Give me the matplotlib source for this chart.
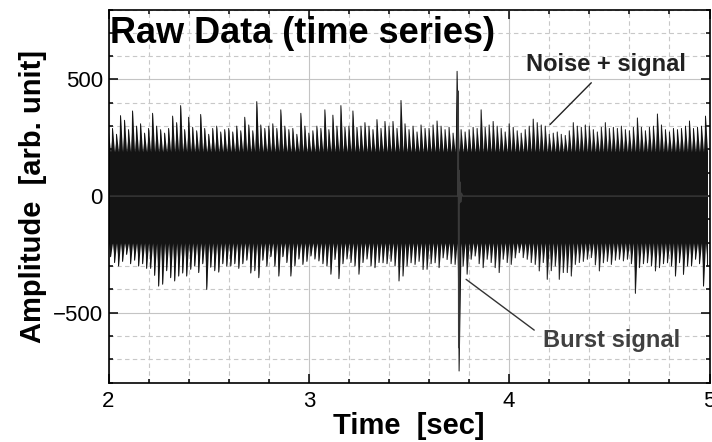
import numpy as np
import matplotlib
matplotlib.use('Agg')
import matplotlib.pyplot as plt
from matplotlib.ticker import MultipleLocator

plt.rcParams['font.family'] = ['Liberation Sans', 'DejaVu Sans']

# envelope of the raw trace, one peak pair per 0.02 s
t_start = 2.0
t_step = 0.02
upper = [
    275, 290, 265, 345, 325, 285, 365, 300, 310, 270,
    290, 355, 300, 285, 270, 290, 343, 315, 388, 285,
    338, 295, 280, 350, 290, 265, 290, 300, 275, 285,
    290, 275, 300, 280, 338, 305, 280, 405, 305, 290,
    300, 310, 290, 370, 300, 285, 290, 265, 355, 300,
    270, 280, 300, 290, 370, 285, 347, 300, 388, 295,
    300, 365, 295, 300, 315, 300, 285, 328, 290, 320,
    300, 320, 290, 410, 310, 285, 300, 275, 305, 290,
    290, 305, 322, 300, 285, 295, 270, 535, 285, 275,
    285, 295, 290, 370, 295, 305, 320, 300, 290, 275,
    310, 295, 280, 270, 285, 300, 330, 315, 305, 300,
    265, 270, 275, 265, 260, 280, 315, 300, 295, 305,
    300, 285, 275, 295, 315, 290, 295, 290, 300, 285,
    280, 295, 335, 295, 280, 295, 300, 352, 305, 285,
    275, 290, 285, 290, 300, 322, 290, 295, 300, 343,
]
lower = [
    -260, -285, -300, -280, -250, -290, -275, -300, -290, -310,
    -310, -340, -386, -378, -320, -350, -364, -343, -330, -343,
    -314, -300, -328, -290, -400, -305, -320, -326, -290, -300,
    -300, -290, -310, -290, -275, -330, -320, -350, -275, -300,
    -260, -300, -343, -260, -285, -343, -300, -270, -293, -280,
    -257, -270, -278, -290, -300, -335, -272, -354, -290, -270,
    -285, -300, -335, -285, -270, -300, -307, -285, -286, -290,
    -280, -300, -364, -343, -300, -286, -293, -280, -315, -314,
    -290, -286, -307, -265, -272, -290, -293, -750, -300, -335,
    -271, -257, -290, -307, -271, -285, -307, -328, -271, -285,
    -293, -265, -243, -264, -271, -285, -293, -321, -285, -357,
    -320, -300, -357, -328, -328, -343, -293, -285, -280, -271,
    -264, -295, -321, -286, -280, -293, -275, -271, -278, -271,
    -290, -417, -307, -290, -286, -300, -321, -307, -290, -286,
    -300, -343, -286, -336, -300, -300, -271, -290, -386, -300,
]
# edges of the solid part of the band
core_high = 190
core_low = -200

# pure burst signal (zero outside the burst)
sig_t = [2.0, 3.744, 3.746, 3.748, 3.750, 3.752, 3.755, 3.758, 3.762, 3.768, 5.0]
sig_v = [0, 0, 450, -650, 110, -30, 60, -25, 12, 0, 0]

n = len(upper)
t_up = t_start + t_step * np.arange(n)
t_dn = t_up + t_step / 2
trace_t = np.column_stack([t_up, t_dn]).ravel()
trace_v = np.column_stack([upper, lower]).ravel()
# jagged edges: peaks at the tips, valleys at the solid band
top_edge = np.column_stack([upper, np.full(n, core_high)]).ravel()
bot_edge = np.column_stack([np.full(n, core_low), lower]).ravel()

fig = plt.figure(figsize=(7.12, 4.42), dpi=100)
ax = fig.add_axes([0.1524, 0.1342, 0.8441, 0.8443])

ax.fill_between(trace_t, bot_edge, top_edge, color='#141414', lw=0)
ax.plot(trace_t, trace_v, color='#141414', lw=0.7)
ax.plot(sig_t, sig_v, color='#3a3a3a', lw=1.0)

ax.set_xlim(2, 5)
ax.set_ylim(-800, 800)
ax.xaxis.set_major_locator(MultipleLocator(1))
ax.xaxis.set_minor_locator(MultipleLocator(0.2))
ax.yaxis.set_major_locator(MultipleLocator(500))
ax.yaxis.set_minor_locator(MultipleLocator(100))
ax.set_axisbelow(True)
ax.grid(which='major', color='#c4c4c4', lw=0.8, ls='-')
ax.grid(which='minor', color='#c8c8c8', lw=0.8, ls=(0, (4, 3)))

ax.tick_params(which='both', direction='in', top=True, right=True, width=1.1, labelsize=16)
ax.tick_params(which='major', length=6.5)
ax.tick_params(which='minor', length=3.2)
ax.tick_params(axis='x', pad=6)
ax.tick_params(axis='y', pad=4)
for s in ax.spines.values():
    s.set_linewidth(1.2)

ax.set_xlabel('Time  [sec]', fontsize=21, fontweight='bold', labelpad=0)
ax.set_ylabel('Amplitude  [arb. unit]', fontsize=21, fontweight='bold', labelpad=4)

ax.text(0.003, 0.91, 'Raw Data (time series)', transform=ax.transAxes,
        fontsize=26, fontweight='bold', va='baseline', ha='left')

ax.annotate('Noise + signal', xy=(4.204, 307), xytext=(4.483, 564),
            fontsize=17, fontweight='bold', color='#222222', ha='center', va='center',
            arrowprops=dict(arrowstyle='-', color='#222222', lw=1.0,
                            relpos=(0.45, 0.0), shrinkA=4, shrinkB=0))
ax.annotate('Burst signal', xy=(3.785, -357), xytext=(4.509, -621),
            fontsize=17, fontweight='bold', color='#404040', ha='center', va='center',
            arrowprops=dict(arrowstyle='-', color='#333333', lw=1.0,
                            relpos=(0.0, 0.7), shrinkA=5, shrinkB=0))

fig.savefig('out.png', dpi=100)
